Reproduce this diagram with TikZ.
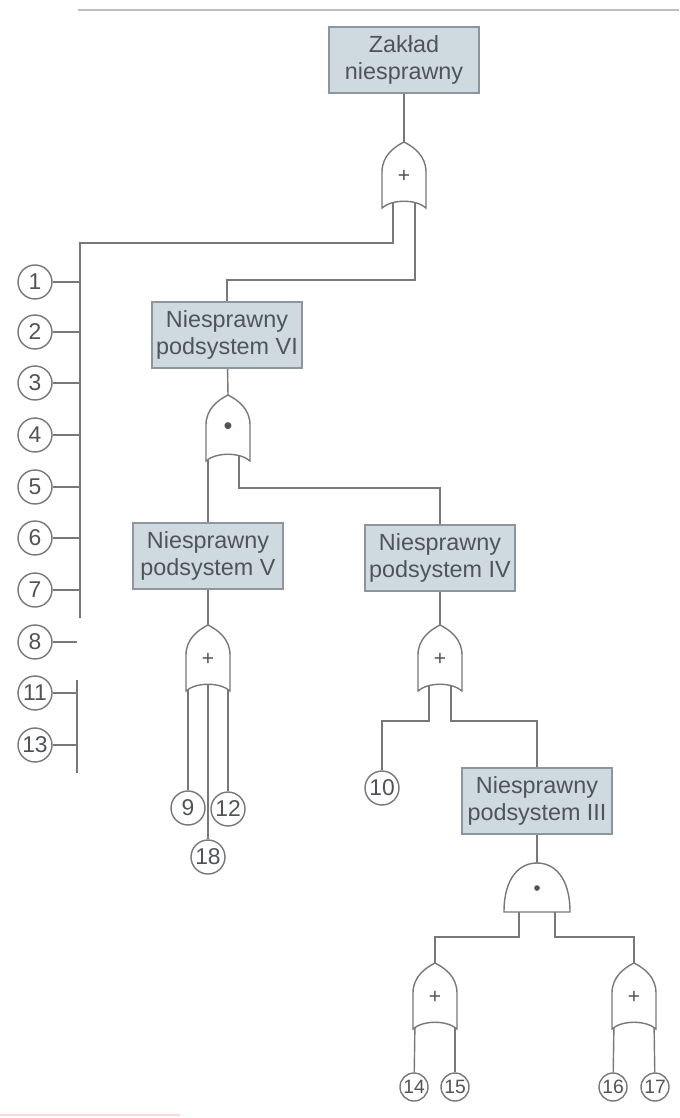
\documentclass[tikz,border=0pt]{standalone}
\usepackage{fontspec}
\setmainfont{Liberation Sans}
\usetikzlibrary{backgrounds}

\definecolor{boxfill}{RGB}{206,218,224}
\definecolor{boxline}{RGB}{140,150,158}
\definecolor{wiregray}{RGB}{120,120,120}
\definecolor{ink}{RGB}{80,84,88}

\begin{document}
\begin{tikzpicture}[x=0.02cm, y=-0.02cm,
    event/.style={draw=boxline, fill=boxfill, line width=0.8pt, text=ink,
        minimum width=3cm, minimum height=1.32cm, align=center, inner sep=2pt,
        font=\fontsize{13.3}{15}\selectfont},
    basic/.style={draw=wiregray, fill=white, circle, line width=0.8pt, text=ink,
        minimum size=0.68cm, inner sep=0pt, font=\fontsize{13}{13}\selectfont},
    small/.style={basic, minimum size=0.56cm, font=\fontsize{11}{11}\selectfont},
    link/.style={draw=wiregray, line width=0.8pt},
    pics/orgate/.style={code={
        \draw[link, fill=white] (-22,66) -- (-22,30) .. controls (-22,14) and (-10,5) .. (0,0)
            .. controls (10,5) and (22,14) .. (22,30) -- (22,66)
            .. controls (12,57) and (-12,57) .. (-22,66) -- cycle;
        \node[text=ink, font=\fontsize{12}{12}\selectfont] at (0,34) {#1};
        \coordinate (-top) at (0,0);
        \coordinate (-ol) at (-20,58);
        \coordinate (-il) at (-11,58);
        \coordinate (-c) at (0,58);
        \coordinate (-ir) at (11,58);
        \coordinate (-or) at (20,58);
    }},
    pics/andgate/.style={code={
        \draw[link, fill=white] (-33,49) .. controls (-33,14) and (-17,0) .. (0,0)
            .. controls (17,0) and (33,14) .. (33,49) -- cycle;
        \fill[ink] (0,25) circle (1.6pt);
        \coordinate (-top) at (0,0);
        \coordinate (-l) at (-18,45);
        \coordinate (-r) at (18,45);
    }},
]
    \useasboundingbox (0,0) rectangle (679,1118);

    % page edges
    \draw[draw=gray!50, line width=0.8pt] (78,10) -- (679,10);
    \draw[draw=red!15, line width=0.8pt] (0,1115) -- (180,1115);

    % events and gates
    \node[event] (Z) at (404,60) {Zakład\\niesprawny};
    \pic (g1) at (404,142) {orgate=+};
    \node[event] (VI) at (227,335) {Niesprawny\\podsystem VI};
    \pic (g2) at (228,395) {orgate={\Large\textbullet}};
    \node[event] (V) at (208,556) {Niesprawny\\podsystem V};
    \pic (g3) at (208,625) {orgate=+};
    \node[event] (IV) at (440,558) {Niesprawny\\podsystem IV};
    \pic (g4) at (440,625) {orgate=+};
    \node[event] (III) at (537,801) {Niesprawny\\podsystem III};
    \pic (g5) at (537,863) {andgate};
    \pic (g6) at (435,963) {orgate=+};
    \pic (g7) at (634,963) {orgate=+};

    % basic events
    \node[basic] (n1) at (35,282) {1};
    \node[basic] (n2) at (35,332) {2};
    \node[basic] (n3) at (35,383) {3};
    \node[basic] (n4) at (35,435) {4};
    \node[basic] (n5) at (35,487) {5};
    \node[basic] (n6) at (35,538) {6};
    \node[basic] (n7) at (35,590) {7};
    \node[basic] (n8) at (35,642) {8};
    \node[basic] (n11) at (35,693) {11};
    \node[basic] (n13) at (35,745) {13};
    \node[basic] (n9) at (188,808) {9};
    \node[basic] (n12) at (228,809) {12};
    \node[basic] (n18) at (208,857) {18};
    \node[basic] (n10) at (382,788) {10};
    \node[small] (n14) at (414,1087) {14};
    \node[small] (n15) at (455,1087) {15};
    \node[small] (n16) at (613,1087) {16};
    \node[small] (n17) at (655,1087) {17};

    \coordinate (b1) at (80,243);
    \coordinate (b2) at (80,618);
    \coordinate (b3) at (77,680);
    \coordinate (b4) at (77,773);
    \coordinate (j1) at (227,280);
    \coordinate (j2) at (440,488);
    \coordinate (j3) at (382,721);
    \coordinate (j4) at (537,721);
    \coordinate (j5) at (435,937);
    \coordinate (j6) at (634,937);

    \begin{scope}[on background layer]
        \draw[link] (Z) -- (g1-top);
        \draw[link] (g1-il) |- (b1) -- (b2);
        \draw[link] (b3) -- (b4);
        \draw[link] (n1) -- (n1 -| b1);
        \draw[link] (n2) -- (n2 -| b1);
        \draw[link] (n3) -- (n3 -| b1);
        \draw[link] (n4) -- (n4 -| b1);
        \draw[link] (n5) -- (n5 -| b1);
        \draw[link] (n6) -- (n6 -| b1);
        \draw[link] (n7) -- (n7 -| b1);
        \draw[link] (n8) -- (n8 -| b3);
        \draw[link] (n11) -- (n11 -| b3);
        \draw[link] (n13) -- (n13 -| b3);

        \draw[link] (g1-ir) |- (j1) -- (VI);
        \draw[link] (VI) -- (g2-top);
        \draw[link] (g2-ol) -- (V);
        \draw[link] (g2-ir) |- (j2) -- (IV);
        \draw[link] (V) -- (g3-top);
        \draw[link] (g3-ol) -- (n9);
        \draw[link] (g3-c) -- (n18);
        \draw[link] (g3-or) -- (n12);
        \draw[link] (IV) -- (g4-top);
        \draw[link] (g4-il) |- (j3) -- (n10);
        \draw[link] (g4-ir) |- (j4) -- (III);
        \draw[link] (III) -- (g5-top);
        \draw[link] (g5-l) |- (j5) -- (g6-top);
        \draw[link] (g5-r) |- (j6) -- (g7-top);
        \draw[link] (g6-ol) -- (n14);
        \draw[link] (g6-or) -- (n15);
        \draw[link] (g7-ol) -- (n16);
        \draw[link] (g7-or) -- (n17);
    \end{scope}
\end{tikzpicture}
\end{document}
